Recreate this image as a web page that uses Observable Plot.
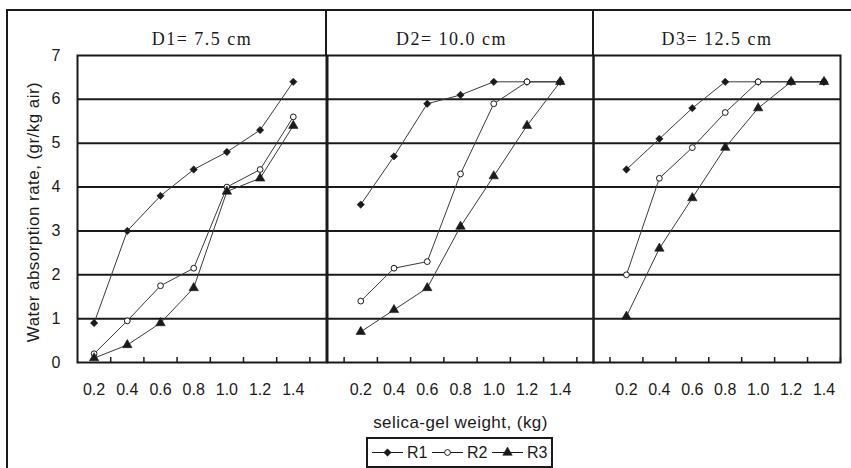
<!DOCTYPE html>
<html>
<head>
<meta charset="utf-8">
<script src="https://cdn.jsdelivr.net/npm/d3@7"></script>
<script src="https://cdn.jsdelivr.net/npm/@observablehq/plot@0.6"></script>
<style>
  html, body { margin: 0; padding: 0; background: #fff; }
  #chart { position: relative; width: 851px; height: 468px; overflow: hidden; background: #fff;
           font-family: "Liberation Sans", Arial, sans-serif; color: #1a1a1a; }
  #chart > svg { position: absolute; left: 0; top: 0; }
  .outer { position: absolute; left: 6px; top: 9px; width: 900px; height: 520px; border: 2px solid #1a1a1a; box-sizing: border-box; }
  .divider { position: absolute; top: 10px; height: 46px; width: 2px; background: #1a1a1a; }
  .legend { position: absolute; left: 366px; top: 437px; width: 187px; height: 31px; border: 2px solid #1a1a1a; box-sizing: border-box; background: #fff; }
  .legend svg { position: absolute; left: 0; top: 0; }
</style>
</head>
<body>
<div id="chart">
  <div class="outer"></div>
</div>
<script>
// ---------- data ----------
const weights = [0.2, 0.4, 0.6, 0.8, 1.0, 1.2, 1.4];
const panelTitles = ["D1= 7.5 cm", "D2= 10.0 cm", "D3= 12.5 cm"];
const seriesNames = ["R1", "R2", "R3"];
const yTicks = [0, 1, 2, 3, 4, 5, 6, 7];

const d1R1 = [0.9, 3.0, 3.8, 4.4, 4.8, 5.3, 6.4];
const d1R2 = [0.2, 0.95, 1.75, 2.15, 4.0, 4.4, 5.6];
const d1R3 = [0.1, 0.4, 0.9, 1.7, 3.9, 4.2, 5.4];

const d2R1 = [3.6, 4.7, 5.9, 6.1, 6.4, 6.4, 6.4];
const d2R2 = [1.4, 2.15, 2.3, 4.3, 5.9, 6.4, 6.4];
const d2R3 = [0.7, 1.2, 1.7, 3.1, 4.25, 5.4, 6.4];

const d3R1 = [4.4, 5.1, 5.8, 6.4, 6.4, 6.4, 6.4];
const d3R2 = [2.0, 4.2, 4.9, 5.7, 6.4, 6.4, 6.4];
const d3R3 = [1.05, 2.6, 3.75, 4.9, 5.8, 6.4, 6.4];

const xLabel = "selica-gel weight, (kg)";
const yLabel = "Water absorption rate, (gr/kg air)";

// ---------- layout / style ----------
const W = 851, H = 468, TOP = 55, BOTTOM = 362;
const INK = "#1a1a1a";
const layouts = [
  { left: 77,  right: 326, domain: [0.1, 1.6], titleDx: 0 },
  { left: 327, right: 593, domain: [0.0, 1.6], titleDx: -9 },
  { left: 593, right: 840, domain: [0.0, 1.5], titleDx: 0 }
];
const values = [[d1R1, d1R2, d1R3], [d2R1, d2R2, d2R3], [d3R1, d3R2, d3R3]];
const seriesStyle = {
  R1: { symbol: "diamond2", r: 3.3, fill: INK, stroke: INK, strokeWidth: 0.6 },
  R2: { symbol: "circle", r: 2.9, fill: "white", stroke: INK, strokeWidth: 1 },
  R3: { symbol: "triangle", r: 3.5, fill: INK, stroke: INK, strokeWidth: 0.6 }
};
// category boundaries (Excel-style ticks between categories)
const bounds = [weights[0] - 0.1, ...weights.map(w => +(w + 0.1).toFixed(1))];

const chart = document.getElementById("chart");

function panel(i) {
  const L = layouts[i];
  const rows = seriesNames.flatMap((s, j) =>
    weights.map((w, k) => ({ panel: panelTitles[i], series: s, w, v: values[i][j][k] })));
  const plotH = BOTTOM - TOP;
  const marks = [
    Plot.ruleY(yTicks.filter(t => t > 0 && t < 7), { stroke: INK, strokeWidth: 2 }),
    Plot.tickX(bounds.filter(b => b > L.domain[0] && b <= L.domain[1]),
      { x: d => d, stroke: INK, strokeWidth: 1.5, insetTop: plotH - 5 }),
    ...seriesNames.map(s => Plot.line(rows.filter(r => r.series === s),
      { x: "w", y: "v", stroke: "#3a3a3a", strokeWidth: 1 })),
    ...seriesNames.map(s => Plot.dot(rows.filter(r => r.series === s),
      { x: "w", y: "v", ...seriesStyle[s] })),
    Plot.frame({ stroke: INK, strokeWidth: 2 }),
    Plot.text([panelTitles[i]], {
      text: d => d, frameAnchor: "top", dy: -23, dx: L.titleDx,
      fontFamily: "Liberation Serif, 'Times New Roman', serif", fontSize: 18, fill: INK
    })
  ];
  if (i === 0) {
    marks.push(Plot.text([yLabel], {
      text: d => d, frameAnchor: "left", textAnchor: "middle", lineAnchor: "middle",
      dx: -44, dy: 3, rotate: -90, fontSize: 17, fill: INK
    }));
  }
  if (i === 1) {
    marks.push(Plot.text([xLabel], {
      text: d => d, frameAnchor: "bottom", textAnchor: "middle", lineAnchor: "middle",
      dy: 60, fontSize: 17, fill: INK
    }));
  }
  const svg = Plot.plot({
    width: W, height: H,
    marginLeft: L.left, marginRight: W - L.right, marginTop: TOP, marginBottom: H - BOTTOM,
    x: { domain: L.domain, ticks: weights, tickFormat: d3.format(".1f"), tickSize: 0, tickPadding: 21, label: null },
    y: i === 0
      ? { domain: [0, 7], ticks: yTicks, tickFormat: d => String(d), tickSize: 0, tickPadding: 17, label: null }
      : { domain: [0, 7], axis: null },
    style: { background: "transparent", fontFamily: "'Liberation Sans', Arial, sans-serif",
             fontSize: "16px", color: INK, overflow: "visible" },
    marks
  });
  svg.querySelectorAll("g[font-family*='Serif'] text").forEach(t => t.style.letterSpacing = "1.5px");
  svg.querySelectorAll("g[font-size='17'] text").forEach(t => t.style.letterSpacing = "0.45px");
  return svg;
}

[0, 1, 2].forEach(i => chart.appendChild(panel(i)));

// dividers above the plot areas (between the panel headers)
[layouts[0].right, layouts[2].left].forEach(x => {
  const d = document.createElement("div");
  d.className = "divider";
  d.style.left = (x - 1) + "px";
  chart.appendChild(d);
});

// legend
const legend = document.createElement("div");
legend.className = "legend";
chart.appendChild(legend);
const lsvg = d3.select(legend).append("svg").attr("width", 183).attr("height", 27);
const itemX = [4, 64, 124];
seriesNames.forEach((s, j) => {
  const g = lsvg.append("g").attr("transform", `translate(${itemX[j]},13.5)`);
  g.append("line").attr("x1", 0).attr("x2", 31).attr("y1", 0).attr("y2", 0)
    .attr("stroke", INK).attr("stroke-width", 1);
  const st = seriesStyle[s];
  const sym = { diamond2: d3.symbolDiamond2, circle: d3.symbolCircle, triangle: d3.symbolTriangle }[st.symbol];
  g.append("path").attr("transform", "translate(15.5,0)")
    .attr("d", d3.symbol(sym, Math.PI * st.r * st.r)())
    .attr("fill", st.fill).attr("stroke", st.stroke).attr("stroke-width", st.strokeWidth);
  g.append("text").attr("x", 35).attr("y", 0).attr("dy", "0.35em")
    .attr("font-family", "'Liberation Sans', Arial, sans-serif").attr("font-size", 16)
    .attr("fill", INK).text(s);
});
</script>
</body>
</html>
